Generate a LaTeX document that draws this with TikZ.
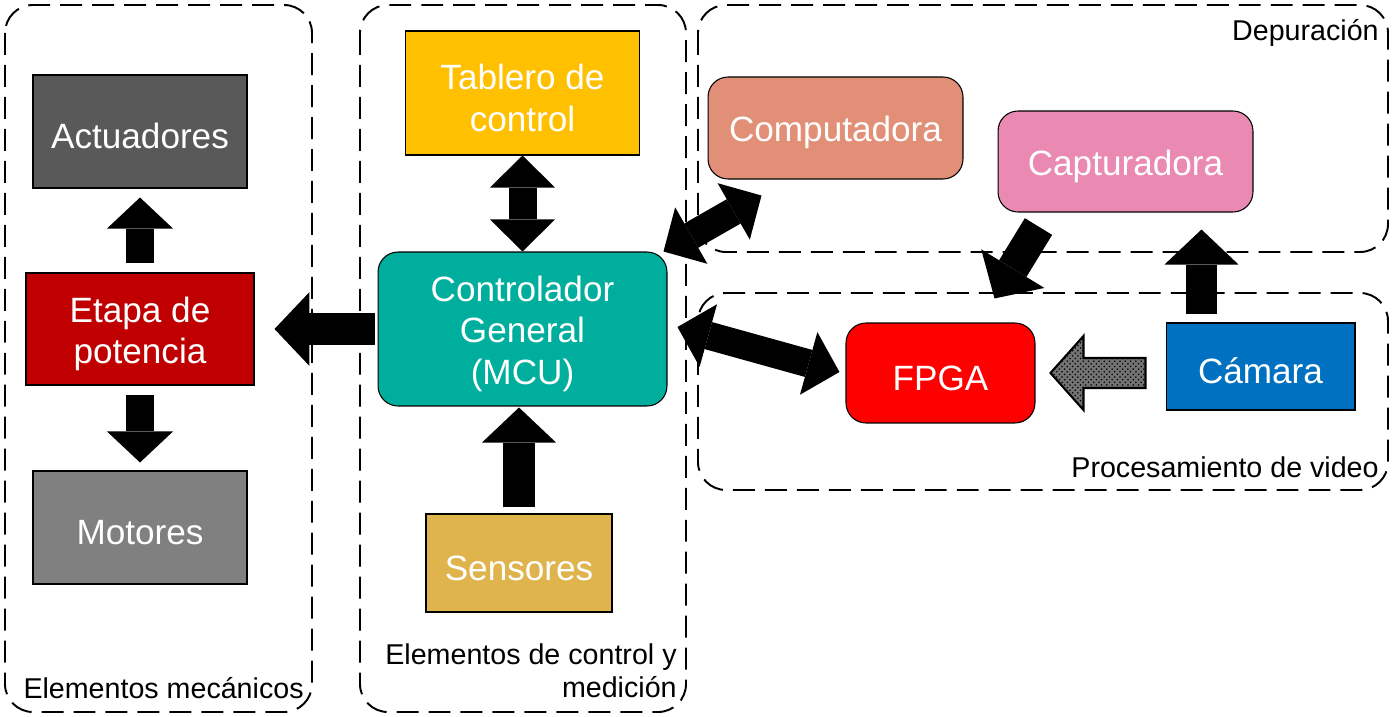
\documentclass[tikz,border=0pt]{standalone}
\usepackage{fontspec}
\setmainfont{Liberation Sans}
\usetikzlibrary{positioning, calc, arrows.meta, patterns}

\begin{document}
\begin{tikzpicture}[x=0.02cm, y=-0.02cm,
        bloque/.style={draw=black, line width=0.6pt, text=white, align=center, inner sep=0pt, font=\fontsize{20}{23.5}\selectfont},
        redondo/.style={bloque, rounded corners=0.4cm},
        grupo/.style={draw=black, line width=1.1pt, dash pattern=on 12.5pt off 5.7pt, rounded corners=0.56cm},
        etiqueta/.style={font=\fontsize{16.3}{18.7}\selectfont, align=right, inner sep=0pt, anchor=east},
        flechaP/.style={line width=0.56cm, -{Triangle[length=0.62cm, width=1.32cm, line width=0pt]}},
        flechaPD/.style={line width=0.56cm, {Triangle[length=0.64cm, width=1.3cm, line width=0pt]}-{Triangle[length=0.64cm, width=1.3cm, line width=0pt]}},
        flechaG/.style={line width=0.64cm, -{Triangle[length=0.7cm, width=1.48cm, line width=0pt]}},
        rayado/.style={draw=black, line width=1.2pt, preaction={fill=black!55}, pattern=crosshatch dots, pattern color=black, line join=miter}]
        % Colores de los bloques
        \definecolor{grisosc}{RGB}{89, 89, 89}
        \definecolor{rojoosc}{RGB}{192, 0, 0}
        \definecolor{grismed}{RGB}{128, 128, 128}
        \definecolor{amarillo}{RGB}{255, 192, 0}
        \definecolor{turquesa}{RGB}{0, 174, 157}
        \definecolor{mostaza}{RGB}{223, 180, 77}
        \definecolor{salmon}{RGB}{226, 143, 119}
        \definecolor{rosa}{RGB}{234, 137, 178}
        \definecolor{azul}{RGB}{0, 112, 192}

        \useasboundingbox (0,0) rectangle (1394,717);

        % Grupos punteados
        \draw[grupo] (5,5) rectangle (312,712);
        \draw[grupo] (360,5) rectangle (686,712);
        \draw[grupo] (698,5) rectangle (1388,252);
        \draw[grupo] (698,293) rectangle (1388,490);

        \node[etiqueta] (lbl_mec) at (304,688) {Elementos mecánicos};
        \node[etiqueta] (lbl_ctl) at (677,671) {Elementos de control y\\medición};
        \node[etiqueta] (lbl_dep) at (1379,33) {Depuración};
        \node[etiqueta] (lbl_vid) at (1379,467) {Procesamiento de video};

        % 1. Elementos mecánicos
        \node[bloque, fill=grisosc, minimum width=4.28cm, minimum height=2.26cm] (act) at (140,131.5) {\rule{0pt}{20pt}Actuadores};
        \node[bloque, fill=rojoosc, minimum width=4.56cm, minimum height=2.24cm] (etapa) at (140,329) {\rule{0pt}{20pt}Etapa de\\potencia};
        \node[bloque, fill=grismed, minimum width=4.28cm, minimum height=2.26cm] (mot) at (140,527.5) {\rule{0pt}{20pt}Motores};

        % 2. Control y medición
        \node[bloque, fill=amarillo, minimum width=4.68cm, minimum height=2.48cm] (tab) at (522.5,93) {\rule{0pt}{20pt}Tablero de\\control};
        \node[redondo, fill=turquesa, minimum width=5.78cm, minimum height=3.08cm] (mcu) at (522.5,329) {\rule{0pt}{20pt}Controlador\\General\\(MCU)};
        \node[bloque, fill=mostaza, minimum width=3.72cm, minimum height=1.96cm] (sens) at (519,563) {\rule{0pt}{20pt}Sensores};

        % 3. Depuración y video
        \node[redondo, fill=salmon, minimum width=5.1cm, minimum height=2.04cm] (comp) at (835.5,128) {\rule{0pt}{20pt}Computadora};
        \node[redondo, fill=rosa, minimum width=5.1cm, minimum height=2.02cm] (capt) at (1125.5,161.5) {\rule{0pt}{20pt}Capturadora};
        \node[redondo, fill=red, minimum width=3.78cm, minimum height=2cm] (fpga) at (940.5,373) {\rule{0pt}{20pt}FPGA};
        \node[bloque, fill=azul, minimum width=3.78cm, minimum height=1.74cm] (cam) at (1260.5,366.5) {\rule{0pt}{20pt}Cámara};

        % 4. Flechas
        \draw[flechaP, shorten <=0.18cm, shorten >=0.18cm] (etapa) -- (act);
        \draw[flechaP, shorten <=0.18cm, shorten >=0.16cm] (etapa) -- (mot);
        \draw[flechaG, shorten <=0.06cm, shorten >=0.4cm] (mcu) -- (etapa);
        \draw[flechaPD] (tab) -- (mcu);
        \draw[flechaG, shorten <=0.12cm, shorten >=0.02cm] (sens.north) -- (sens.north |- mcu.south);
        \draw[flechaPD] ($(mcu.north east)+(-4,0)$) -- ($(comp.south west)+(54,16)$);
        \draw[flechaPD] ($(mcu.east)+(10,-2)$) -- ($(fpga.west)+(-6,-1)$);
        \draw[flechaG] ($(capt.south west)+(41,14)$) -- ($(fpga.north)+(54,-24)$);
        \draw[flechaG] ($(cam.north west)+(36,-8)$) -- ($(cam.north west |- capt.south)+(36,17)$);

        % Flecha rayada Cámara -> FPGA
        \draw[rayado] ($(fpga.east)+(15,0)$) -- ++(33,-37) -- ++(0,22) -- ($(cam.west |- fpga.east)+(-20,-15)$)
            -- ++(0,30) -- ($(fpga.east)+(48,15)$) -- ++(0,22) -- cycle;
\end{tikzpicture}
\end{document}
